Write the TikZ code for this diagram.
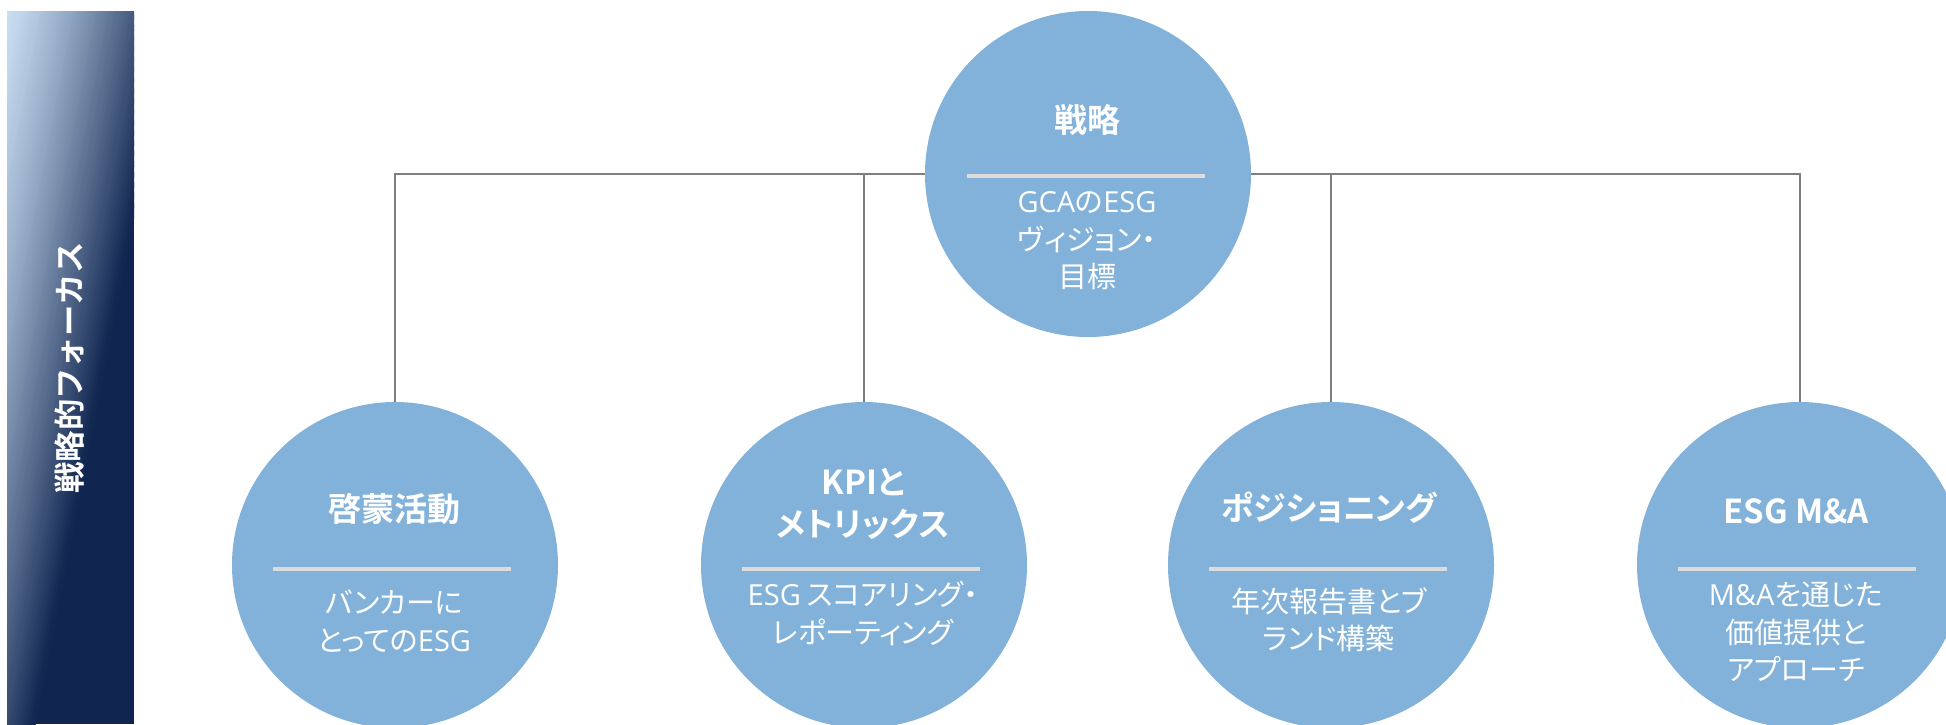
\documentclass[tikz,border=0pt]{standalone}
\usepackage{fontspec}
\usetikzlibrary{backgrounds}
\newfontfamily\jp{Noto Sans CJK JP}[BoldFont={Noto Sans CJK JP Bold},RawFeature={+palt}]
\newfontfamily\jpfix{Noto Sans CJK JP}[BoldFont={Noto Sans CJK JP Bold}]
\newfontfamily\lat{Open Sans}
\definecolor{circ}{HTML}{82B2DA}
\definecolor{linegray}{HTML}{7F7F7F}
\definecolor{divgray}{HTML}{DCDCDC}
\definecolor{barlight}{HTML}{C9DEF2}
\definecolor{navy}{HTML}{10254F}
\begin{document}
\begin{tikzpicture}[x=1pt,y=-1pt,
  bubble/.style={circle, fill=circ, minimum size=326pt, inner sep=0pt},
  ttl/.style={font=\jp\bfseries\fontsize{33}{42}\selectfont, text=white, align=center, inner sep=0pt},
  sub/.style={font=\jp\fontsize{29}{37.5}\selectfont, text=white, align=center, inner sep=0pt},
  link/.style={draw=linegray, line width=1.6pt},
  divider/.style={draw=divgray, line width=4pt}]
\useasboundingbox (0,0) rectangle (1946,724);
% side bar with diagonal gradient (strips tilted by 11 degrees)
\fill[navy] (7,11) rectangle (134,724);
\begin{scope}
  \clip (7,11) rectangle (134,724);
  \foreach \i in {0,...,81} {
    \pgfmathsetmacro\pa{2*\i-0.4}
    \pgfmathsetmacro\pb{2*\i+2.4}
    \pgfmathtruncatemacro\pct{round(100*((\i+0.5)/82)^1.25)}
    \colorlet{stripc}{navy!\pct!barlight}
    \fill[stripc] ({7+0.9816*\pa+57.24},{11+0.1908*\pa-294.48})
      -- ({7+0.9816*\pb+57.24},{11+0.1908*\pb-294.48})
      -- ({7+0.9816*\pb-248.04},{11+0.1908*\pb+1276.08})
      -- ({7+0.9816*\pa-248.04},{11+0.1908*\pa+1276.08}) -- cycle;
  }
\end{scope}
\node[rotate=90, font=\jpfix\bfseries\fontsize{31.4}{31.4}\selectfont, text=white] (bartext) at (70,368) {戦略的フォーカス};
% circles
\node[bubble] (top) at (1088,174) {};
\node[bubble] (c1) at (395,565) {};
\node[bubble] (c2) at (864,565) {};
\node[bubble] (c3) at (1331,565) {};
\node[bubble] (c4) at (1800,565) {};
% connectors
\begin{scope}[on background layer]
  \draw[link] (top.center) -| (c1.north);
  \draw[link] (top.center) -| (c2.north);
  \draw[link] (top.center) -| (c3.north);
  \draw[link] (top.center) -| (c4.north);
\end{scope}
% dividers
\draw[divider] ([shift={(-121,2)}]top.center) -- ([shift={(117,2)}]top.center);
\foreach \c in {c1,c2,c3,c4}
  \draw[divider] ([shift={(-122,4)}]\c.center) -- ([shift={(116,4)}]\c.center);
% texts
\node[ttl] (t0) at (1087,120) {戦略};
\node[sub] (s0) at (1087,241) {{\lat GCA}の{\lat ESG}\\ヴィジョン・\\目標};
\node[ttl] (t1) at (394,509) {啓蒙活動};
\node[sub] (s1) at (394,621) {バンカーに\\とっての{\lat ESG}};
\node[ttl] (t2) at (863,503.5) {KPIと\\メトリックス};
\node[sub] (s2) at (863,613.5) {{\lat ESG} スコアリング・\\レポーティング};
\node[ttl] (t3) at (1329,508) {ポジショニング};
\node[sub] (s3) at (1329,619.5) {年次報告書とブ\\ランド構築};
\node[ttl] (t4) at (1796,511) {ESG M\&A};
\node[sub] (s4) at (1796,632) {{\lat M\&A}を通じた\\価値提供と\\アプローチ};
\end{tikzpicture}
\end{document}
